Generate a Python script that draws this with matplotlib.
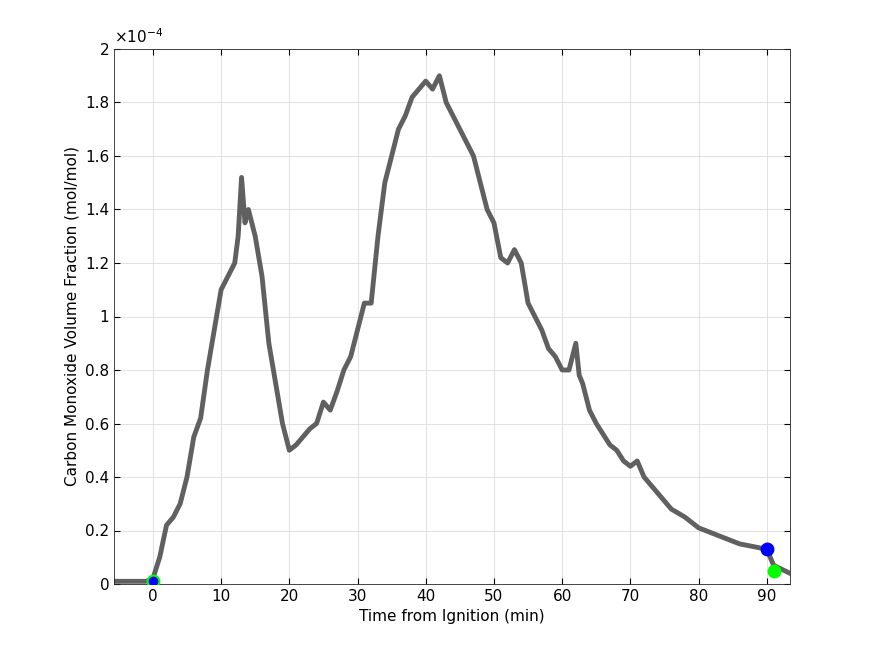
import matplotlib
matplotlib.use("Agg")
from matplotlib import pyplot as plt

# time from ignition (min) and CO volume fraction (x1e-4 mol/mol)
time_min = [-5.7, -1, 0, 1, 2, 3, 4, 5, 6, 7, 8, 9, 10, 11, 12, 12.5, 13, 13.5, 14, 15,
            16, 17, 18, 19, 20, 21, 22, 23, 24, 25, 26, 27, 28, 29, 30, 31, 32, 33, 34,
            35, 36, 37, 38, 39, 40, 41, 42, 43, 44, 45, 46, 47, 48, 49, 50, 51, 52, 53,
            54, 55, 56, 57, 58, 59, 60, 61, 62, 62.5, 63, 64, 65, 66, 67, 68, 69, 70, 71,
            72, 74, 76, 78, 80, 82, 84, 86, 88, 90, 91, 93.4]
co_frac = [0.01, 0.01, 0.02, 0.1, 0.22, 0.25, 0.3, 0.4, 0.55, 0.62, 0.8, 0.95, 1.1, 1.15,
           1.2, 1.3, 1.52, 1.35, 1.4, 1.3, 1.15, 0.9, 0.75, 0.6, 0.5, 0.52, 0.55, 0.58,
           0.6, 0.68, 0.65, 0.72, 0.8, 0.85, 0.95, 1.05, 1.05, 1.3, 1.5, 1.6, 1.7, 1.75,
           1.82, 1.85, 1.88, 1.85, 1.9, 1.8, 1.75, 1.7, 1.65, 1.6, 1.5, 1.4, 1.35, 1.22,
           1.2, 1.25, 1.2, 1.05, 1.0, 0.95, 0.88, 0.85, 0.8, 0.8, 0.9, 0.78, 0.75, 0.65,
           0.6, 0.56, 0.52, 0.5, 0.46, 0.44, 0.46, 0.4, 0.34, 0.28, 0.25, 0.21, 0.19,
           0.17, 0.15, 0.14, 0.13, 0.07, 0.04]

green_pts_t = [0, 91]
green_pts_y = [0.01, 0.05]
blue_pts_t = [0, 90]
blue_pts_y = [0.01, 0.13]

fig = plt.figure(figsize=(8.75, 6.56), dpi=100)
ax = fig.add_axes([114 / 875, 1 - 584 / 656, 676 / 875, 535 / 656])

ax.plot(time_min, [v * 1e-4 for v in co_frac], color='#606060', lw=3.5, zorder=2)
ax.plot(green_pts_t[0], green_pts_y[0] * 1e-4, 'o', color='#00ff00', ms=9, zorder=3)
ax.plot(blue_pts_t[0], blue_pts_y[0] * 1e-4, 'o', color='#0000ff', ms=6, zorder=4)
ax.plot(blue_pts_t[1], blue_pts_y[1] * 1e-4, 'o', color='#0000ff', ms=9, zorder=3)
ax.plot(green_pts_t[1], green_pts_y[1] * 1e-4, 'o', color='#00ff00', ms=9, zorder=3)

ax.set_xlim(-5.7, 93.4)
ax.set_ylim(0, 2e-4)
ax.set_xticks(range(0, 91, 10))
ax.set_yticks([i * 0.2e-4 for i in range(11)])
ax.set_yticklabels(['0', '0.2', '0.4', '0.6', '0.8', '1', '1.2', '1.4', '1.6', '1.8', '2'])
ax.grid(True, color='#dcdcdc', lw=0.6)
ax.set_axisbelow(True)
ax.tick_params(direction='in', labelsize=11, top=True, right=True, length=4)
for s in ax.spines.values():
    s.set_color('#262626')
    s.set_linewidth(0.6)
ax.set_xlabel('Time from Ignition (min)', fontsize=11)
ax.set_ylabel('Carbon Monoxide Volume Fraction (mol/mol)', fontsize=11)
ax.text(0, 1.005, r'$\times$10$^{-4}$', transform=ax.transAxes, fontsize=11, va='bottom')

fig.savefig('out.png')
